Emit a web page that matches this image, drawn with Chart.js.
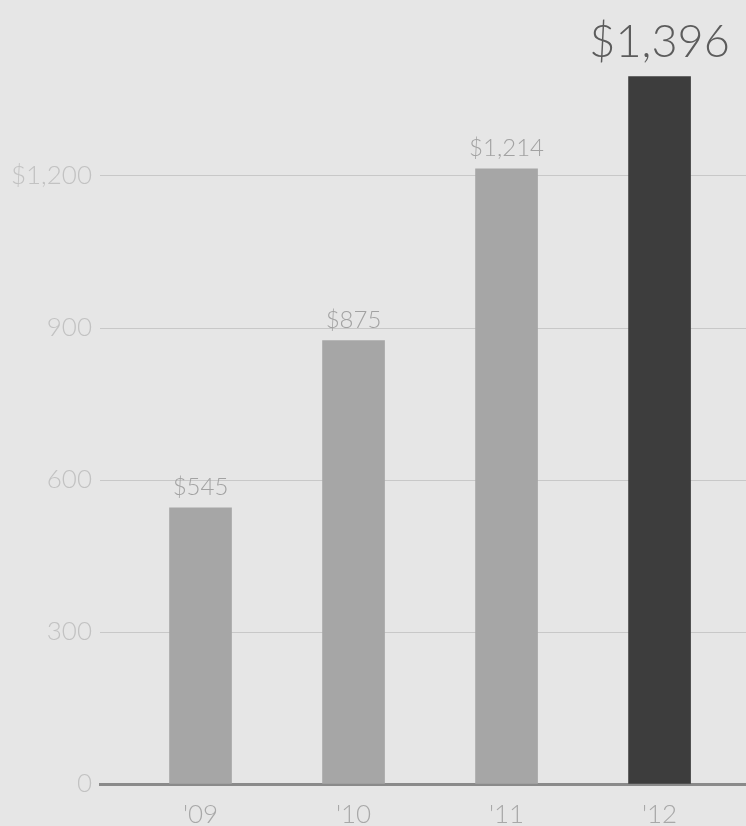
<!DOCTYPE html>
<html><head><meta charset="utf-8">
<script src="https://cdn.jsdelivr.net/npm/chart.js@4"></script>
<style>html,body{margin:0;padding:0;background:#e6e6e6;overflow:hidden;}</style>
</head><body>
<canvas id="c" width="746" height="826" style="display:block;width:746px;height:826px"></canvas>
<script>
const categories = ["'09", "'10", "'11", "'12"];
const revenue = [545, 875, 1214, 1396];
const valueLabels = ["$545", "$875", "$1,214", "$1,396"];
const yTickLabels = {0: "0", 300: "300", 600: "600", 900: "900", 1200: "$1,200"};
const barColors = ["#a6a6a6", "#a6a6a6", "#a6a6a6", "#3d3d3d"];

const FONT = 'Lato, "Open Sans", sans-serif';

const bgPlugin = {
  id: 'bg',
  beforeDraw(chart) {
    const ctx = chart.ctx;
    ctx.save();
    ctx.fillStyle = '#e6e6e6';
    ctx.fillRect(0, 0, chart.width, chart.height);
    ctx.restore();
  }
};

const valuePlugin = {
  id: 'values',
  afterDatasetsDraw(chart) {
    const meta = chart.getDatasetMeta(0);
    const ctx = chart.ctx;
    ctx.save();
    meta.data.forEach((bar, i) => {
      const big = i === revenue.length - 1;
      ctx.font = (big ? '300 45px ' : '300 24px ') + FONT;
      ctx.fillStyle = big ? '#5c5c5c' : '#a2a2a2';
      ctx.textAlign = 'center';
      ctx.textBaseline = 'alphabetic';
      ctx.fillText(valueLabels[i], bar.x, bar.y - (big ? 20 : 13));
    });
    ctx.restore();
  }
};

new Chart(document.getElementById('c'), {
  type: 'bar',
  data: {
    datasets: [{
      data: revenue.map((v, i) => ({x: i, y: v})),
      backgroundColor: barColors,
      borderWidth: 0,
      barThickness: 62
    }]
  },
  options: {
    responsive: false,
    devicePixelRatio: 1,
    animation: false,
    layout: {padding: {top: 24, left: 0, right: 0, bottom: 0}},
    plugins: {legend: {display: false}, tooltip: {enabled: false}},
    scales: {
      x: {
        type: 'linear',
        offset: false,
        min: -0.657,
        max: 3.565,
        afterFit(s) { s.height = 42; },
        grid: {display: true, offset: false, drawOnChartArea: false, drawTicks: false, color: 'rgba(0,0,0,0)'},
        border: {display: true, color: '#8a8a8a', width: 3},
        ticks: {
          stepSize: 1,
          includeBounds: false,
          autoSkip: false,
          maxRotation: 0,
          padding: 15,
          color: '#a8a8a8',
          font: {family: FONT, size: 26, weight: '300'},
          callback: (v) => (Number.isInteger(v) && categories[v] !== undefined) ? categories[v] : ''
        }
      },
      y: {
        min: 0,
        max: 1500,
        afterFit(s) { s.width = 100; },
        border: {display: false},
        grid: {
          drawTicks: false,
          lineWidth: 1,
          color: (c) => (c.tick && (c.tick.value === 0 || c.tick.value === 1500)) ? 'rgba(0,0,0,0)' : '#c8c8c8'
        },
        ticks: {
          stepSize: 300,
          padding: 8,
          color: '#c2c2c2',
          font: {family: FONT, size: 26, weight: '300'},
          callback: (v) => yTickLabels[v] !== undefined ? yTickLabels[v] : ''
        }
      }
    }
  },
  plugins: [bgPlugin, valuePlugin]
});
</script>
</body></html>
